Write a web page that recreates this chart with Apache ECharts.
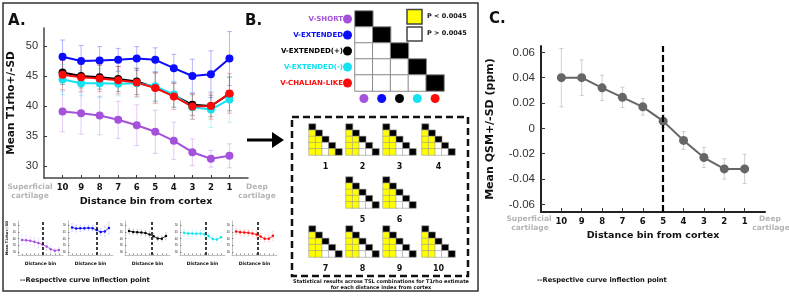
<!DOCTYPE html>
<html>
<head>
<meta charset="utf-8">
<script src="https://cdn.jsdelivr.net/npm/echarts@6/dist/echarts.min.js"></script>
<style>
  html, body { margin: 0; padding: 0; background: #fff; }
  #chart { width: 789px; height: 300px; }
</style>
</head>
<body>
<div id="chart"></div>
<script>
// distance bins, left (superficial) to right (deep)
const bins = [10, 9, 8, 7, 6, 5, 4, 3, 2, 1];

// T1rho mean / SD per TSL group
const vShort = [39.1, 38.8, 38.4, 37.7, 36.8, 35.7, 34.2, 32.3, 31.2, 31.7];
const vShortSd = [3.4, 3.5, 3.2, 3.1, 3.4, 3.6, 3.1, 2.2, 1.4, 2.0];
const vExtended = [48.2, 47.5, 47.6, 47.7, 47.9, 47.7, 46.3, 45.0, 45.3, 47.9];
const vExtendedSd = [2.8, 2.6, 2.3, 1.9, 2.0, 2.0, 2.3, 2.8, 3.9, 4.5];
const vExtPlus = [45.6, 45.0, 44.8, 44.5, 44.1, 43.1, 41.8, 40.2, 40.0, 42.0];
const vExtPlusSd = [2.0, 2.0, 2.0, 2.1, 2.2, 2.4, 2.0, 1.8, 1.8, 2.8];
const vExtMinus = [44.4, 43.8, 43.8, 43.7, 43.8, 43.3, 41.9, 39.8, 39.4, 41.1];
const vExtMinusSd = [2.5, 2.1, 2.4, 2.0, 2.4, 2.4, 2.2, 2.0, 3.0, 3.8];
const vChalian = [45.2, 44.8, 44.6, 44.3, 43.9, 43.0, 41.6, 39.9, 40.0, 42.1];
const vChalianSd = [2.5, 2.3, 2.2, 2.3, 2.3, 2.6, 2.2, 2.1, 2.2, 3.3];

// inflection bin of each curve (small multiples)
const inflection = [5, 4, 4.5, 4.7, 4.8];

// QSM
const qsm = [0.040, 0.040, 0.032, 0.0245, 0.017, 0.0057, -0.0095, -0.023, -0.032, -0.032];
const qsmSd = [0.023, 0.014, 0.010, 0.008, 0.0065, 0.005, 0.007, 0.008, 0.008, 0.0115];
const qsmInflection = 5;

const groupNames = ['V-SHORT', 'V-EXTENDED', 'V-EXTENDED(+)', 'V-EXTENDED(-)', 'V-CHALIAN-LIKE'];
const groupColors = ['#a452dc', '#0b0bff', '#000000', '#14e2f0', '#ff0a0a'];

// significant pairs [row, col] (P < 0.0045) for distance index 1..10
const significant = [
  [[1,0],[2,0],[3,0],[4,0],[2,1],[3,1],[4,1],[4,3]],
  [[1,0],[2,0],[3,0],[4,0],[2,1],[3,1],[4,1]],
  [[1,0],[2,0],[3,0],[4,0],[2,1],[3,1],[4,1]],
  [[1,0],[2,0],[3,0],[4,0],[2,1],[3,1],[4,1]],
  [[1,0],[2,0],[3,0],[4,0],[2,1],[3,1],[4,1]],
  [[1,0],[2,0],[3,0],[4,0],[2,1],[3,1],[4,1]],
  [[1,0],[2,0],[3,0],[4,0],[2,1],[3,1],[4,1]],
  [[1,0],[2,0],[3,0],[4,0],[2,1],[3,1],[4,1]],
  [[1,0],[2,0],[3,0],[4,0],[2,1],[3,1],[4,1]],
  [[1,0],[2,0],[3,0],[4,0],[2,1],[3,1],[4,1]]
];

const t1Ticks = [30, 35, 40, 45, 50];
const qsmTicks = [-0.06, -0.04, -0.02, 0, 0.02, 0.04, 0.06];

const means = [vShort, vExtended, vExtPlus, vExtMinus, vChalian];
const sds = [vShortSd, vExtendedSd, vExtPlusSd, vExtMinusSd, vChalianSd];

const bold = 'DejaVu Sans';
const helv = 'Liberation Sans';

const grids = [], xAxes = [], yAxes = [], series = [], heatIdx = [];

function addGrid(g) { grids.push(g); return grids.length - 1; }

function binAxis(gi, o) {
  return {
    type: 'value', gridIndex: gi, min: 0, max: 11, inverse: true,
    axisLine: { show: true, onZero: false, lineStyle: { color: o.lineColor || '#333', width: o.lineWidth || 1.5 } },
    axisTick: { show: true, inside: true, length: o.tickLen || 3, customValues: bins, lineStyle: { color: '#333', width: o.tickWidth || 1 } },
    axisLabel: { show: o.labels !== false, customValues: bins, fontFamily: bold, fontWeight: 'bold',
      fontSize: o.labelSize || 9, color: '#111', margin: o.labelMargin || 5 },
    splitLine: { show: false },
    name: o.name || '', nameLocation: 'middle', nameGap: o.nameGap || 10,
    nameTextStyle: { fontFamily: bold, fontWeight: 'bold', fontSize: o.nameSize || 10, color: '#111' }
  };
}

function valAxis(gi, o) {
  return {
    type: 'value', gridIndex: gi, min: o.min, max: o.max,
    axisLine: { show: true, onZero: false, lineStyle: { color: o.lineColor || '#333', width: o.lineWidth || 1.5 } },
    axisTick: { show: true, inside: true, length: o.tickLen || 3, customValues: o.ticks, lineStyle: { color: '#333', width: o.tickWidth || 1 } },
    axisLabel: { show: o.labels !== false, customValues: o.ticks, formatter: o.formatter,
      fontFamily: helv, fontSize: o.labelSize || 11, color: '#333', margin: o.labelMargin || 6 },
    splitLine: { show: false },
    name: o.name || '', nameLocation: 'middle', nameGap: o.nameGap || 10, nameRotate: 90,
    nameTextStyle: { fontFamily: bold, fontWeight: 'bold', fontSize: o.nameSize || 10.5, color: '#111' }
  };
}

function errSeries(gi, mean, sd, color, opacity, cap, width) {
  return {
    type: 'custom', xAxisIndex: gi, yAxisIndex: gi, silent: true, z: 1, animation: false,
    data: bins.map((b, k) => [b, mean[k] - sd[k], mean[k] + sd[k]]),
    encode: { x: 0, y: [1, 2] },
    renderItem: (params, api) => {
      const x = api.value(0);
      const lo = api.coord([x, api.value(1)]);
      const hi = api.coord([x, api.value(2)]);
      const st = { stroke: color, lineWidth: width, opacity: opacity };
      return { type: 'group', children: [
        { type: 'line', shape: { x1: lo[0], y1: lo[1], x2: hi[0], y2: hi[1] }, style: st },
        { type: 'line', shape: { x1: lo[0] - cap, y1: lo[1], x2: lo[0] + cap, y2: lo[1] }, style: st },
        { type: 'line', shape: { x1: hi[0] - cap, y1: hi[1], x2: hi[0] + cap, y2: hi[1] }, style: st }
      ] };
    }
  };
}

function lineSeries(gi, vals, color, size, width, extra) {
  return Object.assign({
    type: 'line', xAxisIndex: gi, yAxisIndex: gi, silent: true, animation: false, z: 3,
    data: bins.map((b, k) => [b, vals[k]]),
    symbol: 'circle', symbolSize: size, showSymbol: true,
    lineStyle: { color: color, width: width }, itemStyle: { color: color }
  }, extra || {});
}

function inflectionLine(x, width, dash) {
  return {
    silent: true, symbol: ['none', 'none'], animation: false,
    label: { show: false },
    lineStyle: { color: '#000', width: width, type: dash },
    data: [{ xAxis: x }]
  };
}

// ---- A: main T1rho chart
const gA = addGrid({ left: 44, top: 28, width: 204, height: 150 });
xAxes.push(binAxis(gA, { name: 'Distance bin from cortex', nameGap: 19, nameSize: 9.5, labelSize: 8.5, labelMargin: 5, lineColor: '#444' }));
yAxes.push(valAxis(gA, { min: 28, max: 53, ticks: t1Ticks, name: 'Mean T1rho+/-SD', nameGap: 27, nameSize: 10.5, labelSize: 11, lineColor: '#444' }));
const drawOrder = [1, 0, 2, 3, 4];
drawOrder.forEach(i => series.push(errSeries(gA, means[i], sds[i], groupColors[i], 0.3, 2.5, 1)));
drawOrder.forEach(i => series.push(lineSeries(gA, means[i], groupColors[i], 8, 2)));

// ---- A: small multiples
const smallLefts = [18, 68, 125, 180, 232];
groupNames.forEach((name, i) => {
  const gi = addGrid({ left: smallLefts[i], top: 221, width: 45, height: 34 });
  xAxes.push(binAxis(gi, { labels: false, name: 'Distance bin', nameGap: 6, nameSize: 4.5, lineWidth: 0.6, lineColor: '#999', tickLen: 1.5, tickWidth: 0.5 }));
  yAxes.push(valAxis(gi, { min: 28, max: 53, ticks: t1Ticks, labelSize: 3, labelMargin: 2, lineWidth: 0.6, lineColor: '#999',
    tickLen: 1.5, tickWidth: 0.5, name: i === 0 ? 'Mean T1rho+/-SD' : '', nameGap: 8, nameSize: 3.5 }));
  series.push(errSeries(gi, means[i], sds[i], groupColors[i], 0.25, 0.8, 0.6));
  series.push(lineSeries(gi, means[i], groupColors[i], 2.5, 0.8, { markLine: inflectionLine(inflection[i], 1.5, [3, 2]) }));
});

// ---- C: QSM
const gC = addGrid({ left: 541, top: 46, width: 224, height: 166 });
xAxes.push(binAxis(gC, { name: 'Distance bin from cortex', nameGap: 19, nameSize: 9.5, labelSize: 8.5, labelMargin: 5, lineColor: '#222', lineWidth: 2, tickLen: 4 }));
yAxes.push(valAxis(gC, { min: -0.066, max: 0.065, ticks: qsmTicks, name: 'Mean QSM+/-SD (ppm)', nameGap: 45, nameSize: 11,
  labelSize: 11.5, lineColor: '#222', lineWidth: 2, tickLen: 4, labelMargin: 6,
  formatter: v => (Math.abs(v) < 1e-9 ? '0' : v.toFixed(2)) }));
series.push(errSeries(gC, qsm, qsmSd, '#bbbbbb', 0.7, 2, 1));
series.push(lineSeries(gC, qsm, '#666666', 9, 2, { markLine: inflectionLine(qsmInflection, 2.2, [7, 3]) }));

// ---- B: legend matrix
function catAxis(gi, o) {
  return {
    type: 'category', gridIndex: gi, data: [0, 1, 2, 3, 4], inverse: !!o.inverse,
    axisLine: { show: false }, axisTick: { show: false }, splitLine: { show: false },
    axisLabel: o.label || { show: false },
    name: o.name || '', nameLocation: 'middle', nameGap: o.nameGap || 8,
    nameTextStyle: { fontFamily: bold, fontWeight: 'bold', fontSize: 8, color: '#111' }
  };
}
const rich = {};
groupColors.forEach((c, i) => {
  rich['t' + i] = { color: c, fontFamily: bold, fontWeight: 'bold', fontSize: 7 };
  rich['c' + i] = { backgroundColor: c, width: 9, height: 9, borderRadius: 4.5 };
});
const gB = addGrid({ left: 355, top: 11, width: 89, height: 80 });
xAxes.push(catAxis(gB, { label: { show: true, margin: 3, interval: 0, rich: rich, formatter: (v, i) => '{c' + i + '|}' } }));
yAxes.push(catAxis(gB, { inverse: true, label: { show: true, margin: 3, interval: 0, rich: rich,
  formatter: (v, i) => '{t' + i + '|' + groupNames[i] + '}{c' + i + '|}' } }));
const legendCells = [];
groupNames.forEach((n, r) => { for (let c = 0; c <= r; c++) legendCells.push([c, r, r === c ? 2 : 0]); });
heatIdx.push(series.length);
series.push({ type: 'heatmap', xAxisIndex: gB, yAxisIndex: gB, data: legendCells, silent: true, animation: false,
  itemStyle: { borderColor: '#8a8a8a', borderWidth: 1 } });

// ---- B: per-distance significance matrices
const matPos = [[309, 124], [346, 124], [383, 124], [422, 124], [346, 177], [383, 177],
  [309, 226], [346, 226], [383, 226], [422, 226]];
significant.forEach((pairs, m) => {
  const gi = addGrid({ left: matPos[m][0], top: matPos[m][1], width: 33, height: 31 });
  xAxes.push(catAxis(gi, { name: String(m + 1), nameGap: 8 }));
  yAxes.push(catAxis(gi, { inverse: true }));
  const cells = [];
  groupNames.forEach((n, r) => {
    for (let c = 0; c <= r; c++) {
      const sig = pairs.some(p => p[0] === r && p[1] === c);
      cells.push([c, r, r === c ? 2 : (sig ? 1 : 0)]);
    }
  });
  heatIdx.push(series.length);
  series.push({ type: 'heatmap', xAxisIndex: gi, yAxisIndex: gi, data: cells, silent: true, animation: false,
    itemStyle: { borderColor: '#9a9a9a', borderWidth: 0.6 } });
});

function txt(x, y, text, o) {
  o = o || {};
  return { type: 'text', x: x, y: y, silent: true, z: 10,
    style: { text: text, fontSize: o.size || 8, fontWeight: o.weight || 'bold', fontFamily: o.family || bold,
      fill: o.color || '#111', align: o.align || 'left', textAlign: o.align || 'left',
      verticalAlign: 'middle', textVerticalAlign: 'middle' } };
}

const graphic = [
  { type: 'rect', shape: { x: 3, y: 3, width: 475, height: 288 }, style: { fill: 'none', stroke: '#333', lineWidth: 1.5 }, silent: true },
  { type: 'rect', shape: { x: 292, y: 117, width: 176, height: 159 }, style: { fill: 'none', stroke: '#111', lineWidth: 2.5, lineDash: [7, 4] }, silent: true },
  { type: 'line', shape: { x1: 247, y1: 140, x2: 274, y2: 140 }, style: { stroke: '#000', lineWidth: 3 }, silent: true },
  { type: 'polygon', shape: { points: [[272, 132], [284, 140], [272, 148]] }, style: { fill: '#000' }, silent: true },
  { type: 'rect', shape: { x: 407, y: 9.5, width: 15, height: 14.5 }, style: { fill: '#ffff00', stroke: '#444', lineWidth: 1.5 }, silent: true },
  { type: 'rect', shape: { x: 407, y: 27, width: 15, height: 14 }, style: { fill: '#ffffff', stroke: '#444', lineWidth: 1.5 }, silent: true },
  txt(427, 16.5, 'P < 0.0045', { size: 6.5 }),
  txt(427, 33.5, 'P > 0.0045', { size: 6.5 }),
  txt(8, 21.5, 'A.', { size: 15 }),
  txt(245, 21.5, 'B.', { size: 15 }),
  txt(489, 19, 'C.', { size: 15 }),
  txt(30, 187, 'Superficial', { size: 7.5, color: '#b4b4b4', align: 'center' }),
  txt(30, 196, 'cartilage', { size: 7.5, color: '#b4b4b4', align: 'center' }),
  txt(257, 187, 'Deep', { size: 7.5, color: '#b4b4b4', align: 'center' }),
  txt(257, 196, 'cartilage', { size: 7.5, color: '#b4b4b4', align: 'center' }),
  txt(529, 219, 'Superficial', { size: 7.5, color: '#b4b4b4', align: 'center' }),
  txt(530, 228, 'cartilage', { size: 7.5, color: '#b4b4b4', align: 'center' }),
  txt(770, 219, 'Deep', { size: 7.5, color: '#b4b4b4', align: 'center' }),
  txt(771, 228, 'cartilage', { size: 7.5, color: '#b4b4b4', align: 'center' }),
  txt(381, 282, 'Statistical results across TSL combinations for T1rho estimate', { size: 5, align: 'center' }),
  txt(381, 288, 'for each distance index from cortex', { size: 5, align: 'center' }),
  txt(20, 280, '--Respective curve inflection point', { size: 6.7 }),
  txt(537, 280, '--Respective curve inflection point', { size: 6.7 })
];

const chart = echarts.init(document.getElementById('chart'), null, { renderer: 'canvas' });
chart.setOption({
  animation: false,
  backgroundColor: '#fff',
  grid: grids,
  xAxis: xAxes,
  yAxis: yAxes,
  visualMap: {
    type: 'piecewise', show: false, dimension: 2, seriesIndex: heatIdx,
    pieces: [{ value: 0, color: '#ffffff' }, { value: 1, color: '#ffff00' }, { value: 2, color: '#000000' }]
  },
  graphic: graphic,
  series: series
});
</script>
</body>
</html>
